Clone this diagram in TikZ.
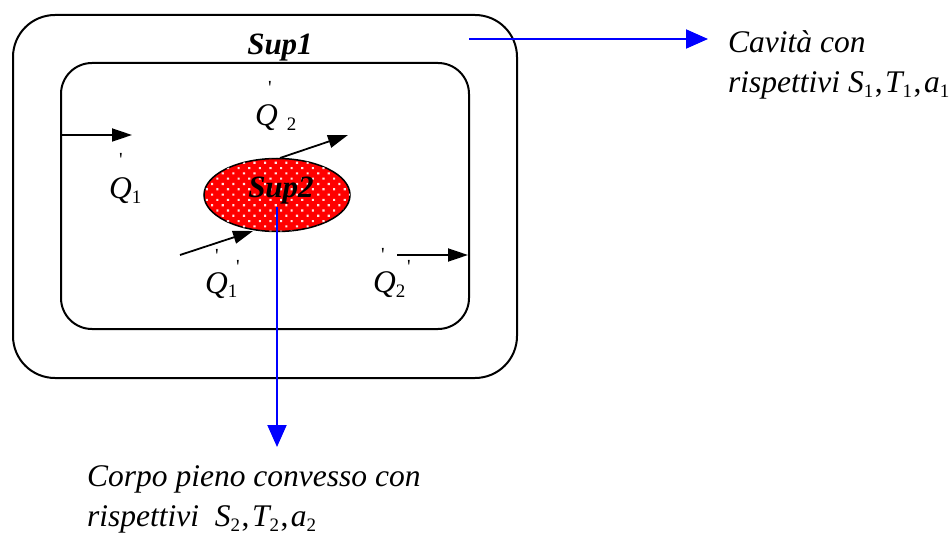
\documentclass[tikz,border=0pt]{standalone}
\usepackage{fontspec}
\setmainfont{Liberation Serif}
\newfontfamily\qfont{Liberation Serif}
\usetikzlibrary{arrows.meta,shapes.geometric,patterns.meta}
\newcommand\lowsub[1]{\raisebox{-5pt}{\fontsize{19}{19}\selectfont\upshape #1}}
\newcommand\sepcomma{\hspace{1.5pt}{\upshape ,}\hspace{2.5pt}}
\begin{document}
\begin{tikzpicture}[x=1pt,y=-1pt,
  frame/.style={draw, line width=2pt, rectangle},
  flow/.style={line width=1.8pt, -{Triangle[length=20pt,width=13pt]}},
  lead/.style={draw=blue, line width=2pt, -{Triangle[length=22pt,width=19pt]}},
  txt/.style={font=\fontsize{31.5}{37}\selectfont\itshape, inner sep=0pt, anchor=base west},
  bold/.style={font=\fontsize{31}{37}\selectfont\bfseries\itshape, inner sep=0pt, anchor=base},
  tick/.style={font=\fontsize{20}{20}\selectfont\qfont, inner sep=0pt}]
\useasboundingbox (0,0) rectangle (949,534);
% boxes
\node[frame, rounded corners=42pt, minimum width=504pt, minimum height=363pt] (outer) at (265,196.5) {};
\node[frame, rounded corners=31pt, minimum width=408pt, minimum height=266pt] (inner) at (265,196) {};
% body
\node[ellipse, draw, line width=1.5pt, fill=red,
      postaction={pattern={Dots[distance=7.5pt,radius=1.5pt,angle=45]}, pattern color=white!90!red},
      minimum width=146pt, minimum height=73pt] (body) at (277,195) {};
\node[bold] (sup1) at (280,55) {Sup1};
\node[bold] (sup2) at (281,198) {Sup2};
% blue leads
\coordinate (c1) at (469,39);
\coordinate (c1e) at (708,39);
\draw[lead] (c1) -- (c1e);
\coordinate (c2) at (277,207);
\coordinate (c2e) at (277,447);
\draw[lead] (c2) -- (c2e);
% captions
\node[txt] (cav1) at (728,53) {Cavità con};
\node[txt] (cav2) at (728,93) {rispettivi S\lowsub{1}\sepcomma T\lowsub{1}\sepcomma a\lowsub{1}};
\node[txt] (cor1) at (87,486) {Corpo pieno convesso con};
\node[txt] (cor2) at (87,526) {rispettivi\ \ S\lowsub{2}\sepcomma T\lowsub{2}\sepcomma a\lowsub{2}};
% heat flows
\coordinate (f1s) at (62,135);  \coordinate (f1e) at (132,135);
\coordinate (f2s) at (280,158); \coordinate (f2e) at (348,135);
\coordinate (f3s) at (180,255); \coordinate (f3e) at (253,231);
\coordinate (f4s) at (397,255); \coordinate (f4e) at (468,255);
\draw[flow] (f1s) -- (f1e);
\draw[flow] (f2s) -- (f2e);
\draw[flow] (f3s) -- (f3e);
\draw[flow] (f4s) -- (f4e);
% labels
\node[txt] (q1) at (109,199) {Q\lowsub{1}};
\node[txt] (q2) at (255,126) {Q\hspace{9pt}\lowsub{2}};
\node[txt] (q3) at (205,293) {Q\lowsub{1}};
\node[txt] (q4) at (373,292) {Q\lowsub{2}};
\node[tick] (p1) at (121,160) {'};
\node[tick] (p2) at (270,88) {'};
\node[tick] (p3a) at (217,256) {'};
\node[tick] (p3b) at (238,267) {'};
\node[tick] (p4a) at (383,255) {'};
\node[tick] (p4b) at (409,267) {'};
\end{tikzpicture}
\end{document}
